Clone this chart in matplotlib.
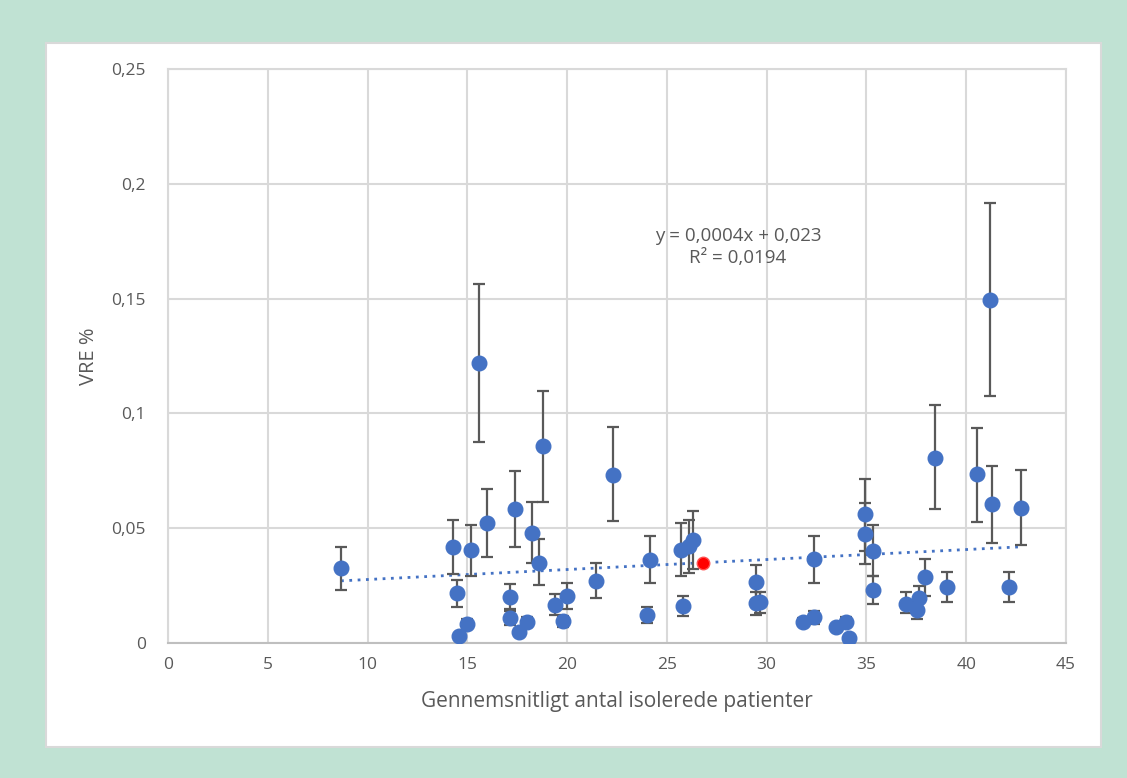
import matplotlib.pyplot as plt
from matplotlib.patches import Rectangle

plt.rcParams['font.family'] = ['Open Sans', 'DejaVu Sans']

# gennemsnitligt antal isolerede patienter / VRE %
x_vals = [8.67, 14.28, 14.46, 14.60, 14.98, 15.16, 15.57, 15.97, 17.38, 17.15,
          17.15, 17.60, 17.97, 18.25, 18.57, 18.77, 19.39, 19.81, 19.97, 21.44,
          22.31, 24.15, 23.98, 25.69, 26.12, 26.32, 25.82, 29.46, 29.46, 29.69,
          31.80, 32.38, 32.38, 33.47, 33.97, 34.13, 34.93, 34.93, 35.34, 35.34,
          36.96, 37.54, 37.63, 37.93, 38.43, 39.06, 40.55, 41.18, 41.28, 42.15,
          42.72]
y_vals = [0.0327, 0.0418, 0.0216, 0.0032, 0.0083, 0.0405, 0.1221, 0.0524, 0.0584, 0.0202,
          0.0108, 0.0047, 0.0093, 0.0478, 0.0350, 0.0858, 0.0166, 0.0097, 0.0206, 0.0270,
          0.0732, 0.0361, 0.0122, 0.0405, 0.0422, 0.0449, 0.0161, 0.0266, 0.0173, 0.0177,
          0.0093, 0.0112, 0.0365, 0.0071, 0.0093, 0.0022, 0.0560, 0.0473, 0.0401, 0.0231,
          0.0170, 0.0144, 0.0197, 0.0286, 0.0807, 0.0243, 0.0735, 0.1494, 0.0605, 0.0245,
          0.0589]
y_high = [0.0418, 0.0536, 0.0274, 0.0032, 0.0105, 0.0514, 0.1564, 0.0669, 0.0749, 0.0257,
          0.0139, 0.0047, 0.0115, 0.0615, 0.0452, 0.1099, 0.0212, 0.0118, 0.0260, 0.0347,
          0.0942, 0.0466, 0.0155, 0.0521, 0.0536, 0.0576, 0.0206, 0.0341, 0.0224, 0.0220,
          0.0110, 0.0141, 0.0466, 0.0071, 0.0115, 0.0022, 0.0713, 0.0608, 0.0514, 0.0292,
          0.0221, 0.0185, 0.0250, 0.0366, 0.1037, 0.0311, 0.0938, 0.1918, 0.0772, 0.0311,
          0.0753]
y_low = [0.0230, 0.0301, 0.0158, 0.0032, 0.0065, 0.0292, 0.0877, 0.0376, 0.0419, 0.0147,
         0.0078, 0.0047, 0.0068, 0.0347, 0.0253, 0.0615, 0.0122, 0.0070, 0.0147, 0.0197,
         0.0531, 0.0263, 0.0088, 0.0292, 0.0304, 0.0321, 0.0118, 0.0170, 0.0122, 0.0129,
         0.0078, 0.0083, 0.0263, 0.0071, 0.0075, 0.0022, 0.0400, 0.0343, 0.0292, 0.0169,
         0.0129, 0.0103, 0.0150, 0.0206, 0.0584, 0.0177, 0.0526, 0.1076, 0.0437, 0.0177,
         0.0427]

# gennemsnit (rødt punkt)
mean_x = 26.82
mean_y = 0.0347

# trendlinje
trend_slope = 0.000435
trend_intercept = 0.0233

fig = plt.figure(figsize=(11.27, 7.78), dpi=100)
fig.patch.set_facecolor('#c0e2d3')
bg = Rectangle((46 / 1127, 1 - 747 / 778), (1101 - 46) / 1127, (747 - 43) / 778,
               transform=fig.transFigure, facecolor='white',
               edgecolor='#d9d9d9', linewidth=1.5, zorder=-10)
fig.add_artist(bg)

ax = fig.add_axes([168 / 1127, 1 - 643 / 778, (1066 - 168) / 1127, (643 - 69) / 778])
ax.set_zorder(5)
ax.set_facecolor('white')

err_lo = [y - lo for y, lo in zip(y_vals, y_low)]
err_hi = [hi - y for y, hi in zip(y_vals, y_high)]
ax.errorbar(x_vals, y_vals, yerr=[err_lo, err_hi], fmt='none', ecolor='#595959',
            elinewidth=1.6, capsize=4.5, capthick=1.6, zorder=3)
ax.plot(x_vals, y_vals, 'o', color='#4472c4', markersize=10.5,
        markeredgecolor='#4472c4', zorder=4)
ax.plot([mean_x], [mean_y], 'o', color='#ff0000', markersize=9,
        markeredgecolor='#ff5050', zorder=5)

tx = [min(x_vals), max(x_vals)]
ty = [trend_slope * v + trend_intercept for v in tx]
ax.plot(tx, ty, color='#4472c4', linewidth=2, linestyle=(0, (1, 2)), zorder=2)

ax.text(28.56, 0.1725, 'y = 0,0004x + 0,023\nR² = 0,0194', linespacing=1.25,
        fontsize=13.5, color='#595959', ha='center', va='center', zorder=6)

ax.set_xlim(0, 45)
ax.set_ylim(0, 0.25)
ax.set_xticks([0, 5, 10, 15, 20, 25, 30, 35, 40, 45])
ax.set_yticks([0, 0.05, 0.1, 0.15, 0.2, 0.25])
ax.set_yticklabels(['0', '0,05', '0,1', '0,15', '0,2', '0,25'])
ax.grid(True, color='#d9d9d9', linewidth=1.5, zorder=0)
ax.set_axisbelow(True)
for side in ['top', 'right', 'left']:
    ax.spines[side].set_color('#d9d9d9')
    ax.spines[side].set_linewidth(1.5)
ax.spines['bottom'].set_color('#bfbfbf')
ax.spines['bottom'].set_linewidth(1.5)
ax.tick_params(length=0, labelsize=12.5, colors='#595959', pad=10)
ax.tick_params(axis='y', pad=16)

ax.set_xlabel('Gennemsnitligt antal isolerede patienter', fontsize=15,
              color='#595959', labelpad=13)
ax.set_ylabel('VRE %', fontsize=14.5, color='#595959', labelpad=9)

fig.savefig('out.png', dpi=100, facecolor=fig.get_facecolor())
